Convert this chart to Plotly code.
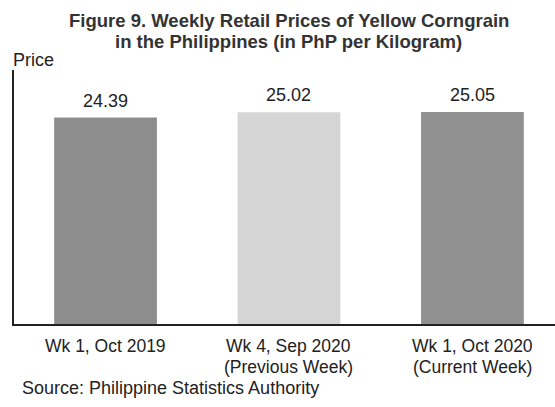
import plotly.graph_objects as go

# datos
semanas = ["Wk 1, Oct 2019", "Wk 4, Sep 2020", "Wk 1, Oct 2020"]
subetiquetas = ["", "(Previous Week)", "(Current Week)"]
precios = [24.39, 25.02, 25.05]
colores = ["#8d8d8d", "#d5d5d5", "#909090"]

FUENTE = "Liberation Sans, Arial, sans-serif"
TINTA = "#222222"

fig = go.Figure()

# 1. barras
fig.add_trace(go.Bar(
    x=semanas, y=precios,
    marker=dict(color=colores, line=dict(width=0)),
    width=0.56,
    hoverinfo="x+y",
))

anotaciones = []

# 2. valores sobre las barras
for s, p in zip(semanas, precios):
    anotaciones.append(dict(
        x=s, y=p, xref="x", yref="y", text=f"{p:.2f}",
        showarrow=False, yanchor="bottom", yshift=5,
        font=dict(size=18, color=TINTA),
    ))

# 3. etiquetas del eje x (dos lineas)
for s, sub in zip(semanas, subetiquetas):
    anotaciones.append(dict(
        x=s, y=0, xref="x", yref="paper", text=s,
        showarrow=False, yanchor="middle", yshift=-22,
        font=dict(size=17.5, color=TINTA),
    ))
    if sub:
        anotaciones.append(dict(
            x=s, y=0, xref="x", yref="paper", text=sub,
            showarrow=False, yanchor="middle", yshift=-43,
            font=dict(size=17.5, color=TINTA),
        ))

# 4. titulo, etiqueta del eje y y fuente
titulo = ["Figure 9. Weekly Retail Prices of Yellow Corngrain",
          "in the Philippines (in PhP per Kilogram)"]
for i, linea in enumerate(titulo):
    anotaciones.append(dict(
        x=0.508, y=1, xref="paper", yref="paper", text=f"<b>{linea}</b>",
        showarrow=False, xanchor="center", yanchor="middle", yshift=50 - 21 * i,
        font=dict(size=18.5, color="#333333"),
    ))

anotaciones.append(dict(
    text="Price", xref="paper", yref="paper", x=-0.006, y=1,
    xanchor="left", yanchor="middle", yshift=10, showarrow=False,
    font=dict(size=18, color=TINTA),
))
anotaciones.append(dict(
    text="Source: Philippine Statistics Authority", xref="paper", yref="paper",
    x=0.012, y=0, xanchor="left", yanchor="middle", yshift=-64, showarrow=False,
    font=dict(size=18, color=TINTA),
))

fig.update_layout(
    width=555, height=407,
    paper_bgcolor="white", plot_bgcolor="white",
    font=dict(family=FUENTE, color=TINTA),
    margin=dict(l=14, r=0, t=70, b=83),
    showlegend=False,
    xaxis=dict(
        range=[-0.499, 2.45],
        showline=True, linecolor=TINTA, linewidth=2,
        ticks="", showgrid=False, showticklabels=False,
    ),
    yaxis=dict(
        range=[0, 30],
        showline=True, linecolor=TINTA, linewidth=2,
        showticklabels=False, ticks="", showgrid=False, zeroline=False,
    ),
    annotations=anotaciones,
)

# sin margen del body para que la figura quede en (0, 0)
fig.write_html("out.html", config={"displayModeBar": False},
               post_script="document.body.style.margin='0';")
